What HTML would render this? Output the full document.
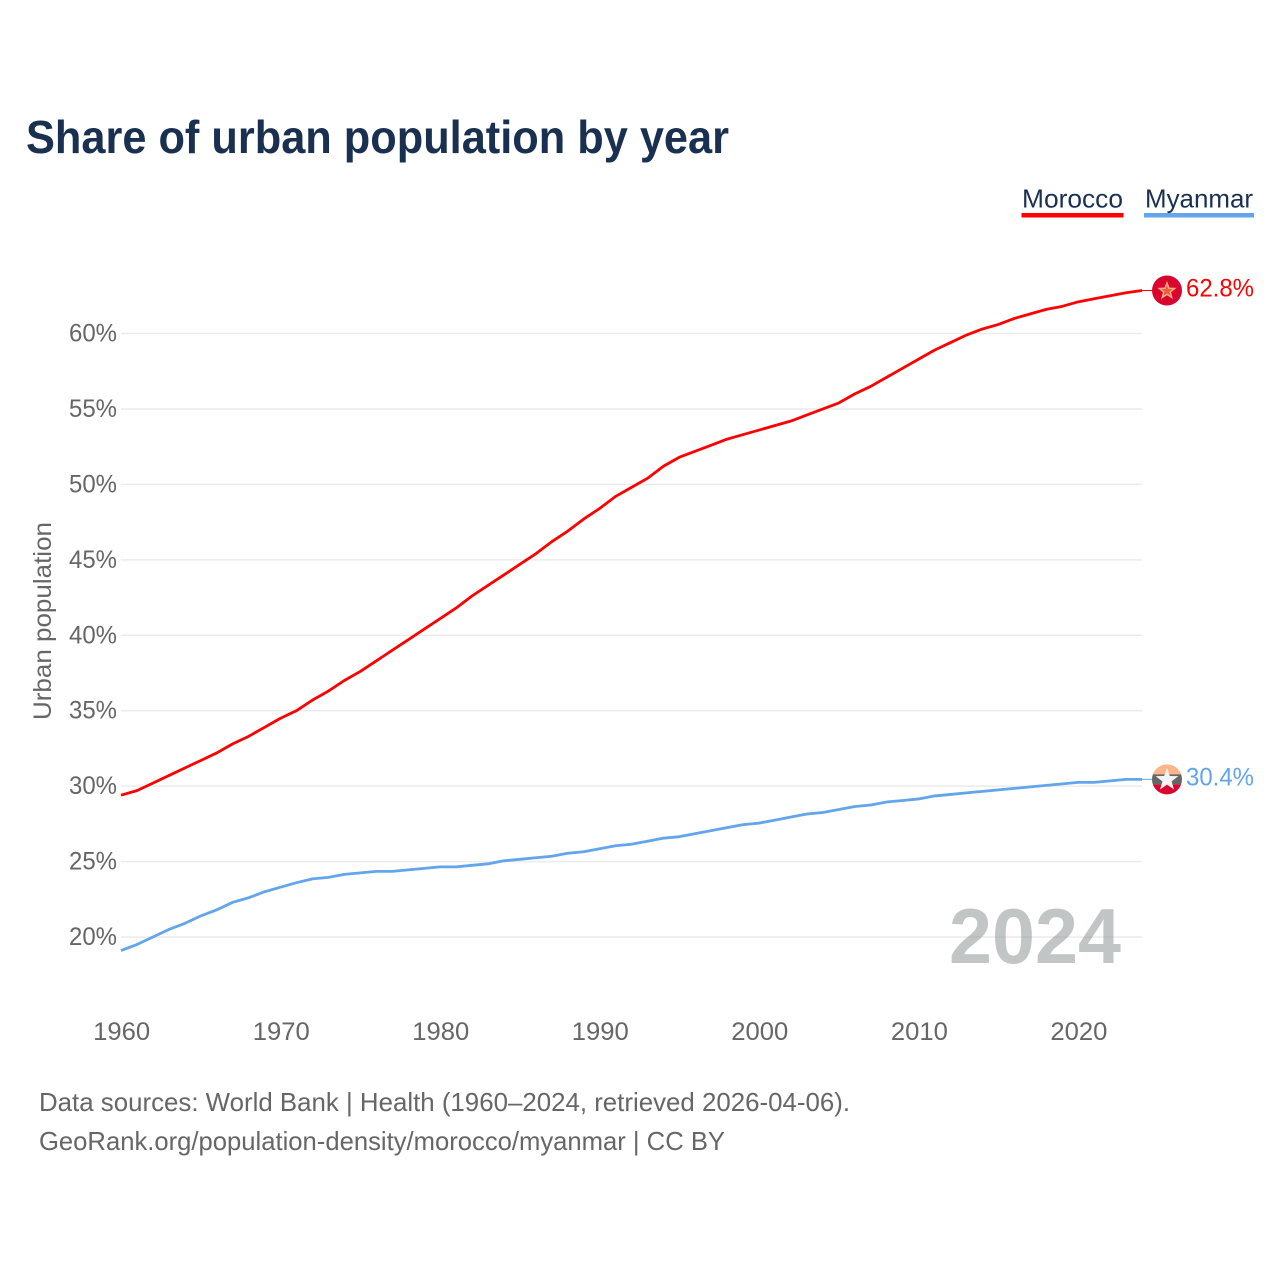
<!DOCTYPE html>
<html lang="en">
<head>
<meta charset="utf-8">
<title>Share of urban population by year</title>
<style>
html,body{margin:0;padding:0;background:#fff;width:1280px;height:1280px;overflow:hidden}
svg{display:block}
text{font-family:"Liberation Sans",sans-serif}
</style>
</head>
<body>
<svg id="chart" xmlns="http://www.w3.org/2000/svg" width="1280" height="1280" viewBox="0 0 1280 1280">
  <rect width="1280" height="1280" fill="#fff"/>
  <text x="26" y="153" font-size="46" font-weight="700" fill="#1a3050" textLength="703" lengthAdjust="spacingAndGlyphs">Share of urban population by year</text>

  <g>
    <g>
      <text x="1022" y="207.5" font-size="26" fill="#1a3050" textLength="101" lengthAdjust="spacingAndGlyphs">Morocco</text>
      <rect x="1021.5" y="213" width="102" height="4.5" fill="#ff0000"/>
    </g>
    <g>
      <text x="1145" y="207.5" font-size="26" fill="#1a3050" textLength="108" lengthAdjust="spacingAndGlyphs">Myanmar</text>
      <rect x="1144" y="213" width="110" height="4.5" fill="#62a5ea"/>
    </g>
  </g>

  <g id="grid"></g>
  <g id="yticks"></g>
  <g id="xticks"></g>
  <text transform="translate(51 621) rotate(-90)" text-anchor="middle" font-size="25" fill="#666" textLength="198" lengthAdjust="spacingAndGlyphs">Urban population</text>

  <text x="949" y="963" font-size="78" font-weight="700" fill="#8a8f8f" fill-opacity="0.52" textLength="172" lengthAdjust="spacingAndGlyphs">2024</text>

  <g id="series"></g>
  <g id="ends"></g>

  <g>
    <text x="39" y="1111" font-size="26" fill="#666" textLength="811" lengthAdjust="spacingAndGlyphs">Data sources: World Bank | Health (1960–2024, retrieved 2026-04-06).</text>
    <text x="39" y="1150" font-size="26" fill="#666" textLength="686" lengthAdjust="spacingAndGlyphs">GeoRank.org/population-density/morocco/myanmar | CC BY</text>
  </g>
</svg>
<script>
const years = [1960,1961,1962,1963,1964,1965,1966,1967,1968,1969,1970,1971,1972,1973,1974,1975,1976,1977,1978,1979,1980,1981,1982,1983,1984,1985,1986,1987,1988,1989,1990,1991,1992,1993,1994,1995,1996,1997,1998,1999,2000,2001,2002,2003,2004,2005,2006,2007,2008,2009,2010,2011,2012,2013,2014,2015,2016,2017,2018,2019,2020,2021,2022,2023,2024];
const moroccoValues = [29.4,29.7,30.2,30.7,31.2,31.7,32.2,32.8,33.3,33.9,34.5,35.0,35.7,36.3,37.0,37.6,38.3,39.0,39.7,40.4,41.1,41.8,42.6,43.3,44.0,44.7,45.4,46.2,46.9,47.7,48.4,49.2,49.8,50.4,51.2,51.8,52.2,52.6,53.0,53.3,53.6,53.9,54.2,54.6,55.0,55.4,56.0,56.5,57.1,57.7,58.3,58.9,59.4,59.9,60.3,60.6,61.0,61.3,61.6,61.8,62.1,62.3,62.5,62.7,62.85];
const myanmarValues = [19.1,19.5,20.0,20.5,20.9,21.4,21.8,22.3,22.6,23.0,23.3,23.6,23.85,23.95,24.15,24.25,24.35,24.35,24.45,24.55,24.65,24.65,24.75,24.85,25.05,25.15,25.25,25.35,25.55,25.65,25.85,26.05,26.15,26.35,26.55,26.65,26.85,27.05,27.25,27.45,27.55,27.75,27.95,28.15,28.25,28.45,28.65,28.75,28.95,29.05,29.15,29.35,29.45,29.55,29.65,29.75,29.85,29.95,30.05,30.15,30.25,30.25,30.35,30.45,30.45];
const yTickValues = [20,25,30,35,40,45,50,55,60];
const xTickValues = [1960,1970,1980,1990,2000,2010,2020];
const moroccoLabel = "62.8%";
const myanmarLabel = "30.4%";

const NS = "http://www.w3.org/2000/svg";
function xScale(year){ return 121 + (year - 1960) * (1142 - 121) / 64; }
function yScale(pct){ return 937 - (pct - 20) * (937 - 333.5) / 40; }
function make(tag, attrs, parent, text){
  const el = document.createElementNS(NS, tag);
  for (const k in attrs) el.setAttribute(k, attrs[k]);
  if (text !== undefined) el.textContent = text;
  parent.appendChild(el);
  return el;
}

const grid = document.getElementById('grid');
const yticks = document.getElementById('yticks');
yTickValues.forEach(function(v){
  const line = make('line', {x1:121, x2:1142, y1:yScale(v), y2:yScale(v), stroke:'#ececec', 'stroke-width':1.5}, grid);
  
  
  const label = make('text', {x:117, y:yScale(v)+8, 'text-anchor':'end', 'font-size':25, fill:'#666', textLength:48, lengthAdjust:'spacingAndGlyphs'}, yticks, v + '%');
  
  
});

const xticks = document.getElementById('xticks');
xTickValues.forEach(function(v){
  const label = make('text', {x:xScale(v)+0.7, y:1040, 'text-anchor':'middle', 'font-size':25, fill:'#666', textLength:57, lengthAdjust:'spacingAndGlyphs'}, xticks, String(v));
  
  
});

function pathFor(values){
  return values.map(function(v, i){
    return (i ? 'L' : 'M') + xScale(years[i]).toFixed(2) + ' ' + yScale(v).toFixed(2);
  }).join(' ');
}
const series = document.getElementById('series');
const moroccoLine = make('path', {d:pathFor(moroccoValues), fill:'none', stroke:'#ff0000', 'stroke-width':2.8, 'stroke-linejoin':'round'}, series);


const myanmarLine = make('path', {d:pathFor(myanmarValues), fill:'none', stroke:'#62a5ea', 'stroke-width':2.8, 'stroke-linejoin':'round'}, series);



function starPoints(cx, cy, R, r){
  const pts = [];
  for (let i = 0; i < 10; i++){
    const a = -Math.PI / 2 + i * Math.PI / 5;
    const rad = i % 2 ? r : R;
    pts.push((cx + rad * Math.cos(a)).toFixed(2) + ',' + (cy + rad * Math.sin(a)).toFixed(2));
  }
  return pts.join(' ');
}

const ends = document.getElementById('ends');
const FLAG_X = 1167, FLAG_R = 15;

/* Morocco end marker */
const my1 = yScale(moroccoValues[moroccoValues.length - 1]);
const conn1 = make('line', {x1:1142, x2:1152, y1:my1, y2:my1, stroke:'#ff0000', 'stroke-width':1}, ends);


const flag1 = make('g', {}, ends);


make('circle', {cx:FLAG_X, cy:my1, r:FLAG_R, fill:'#d9052f'}, flag1);
make('polygon', {points:starPoints(FLAG_X, my1 + 0.5, 8, 3.4), fill:'#e8603f', stroke:'#f5ad80', 'stroke-width':1.5}, flag1);
const val1 = make('text', {x:1186, y:my1 + 6, 'font-size':25, fill:'#ff0000', textLength:68, lengthAdjust:'spacingAndGlyphs'}, ends, moroccoLabel);



/* Myanmar end marker */
const my2 = yScale(myanmarValues[myanmarValues.length - 1]);
const conn2 = make('line', {x1:1142, x2:1152, y1:my2, y2:my2, stroke:'#62a5ea', 'stroke-width':1}, ends);


const flag2 = make('g', {}, ends);


const defs = make('defs', {}, flag2);
const clip = make('clipPath', {id:'flag2clip'}, defs);
make('circle', {cx:FLAG_X, cy:my2, r:FLAG_R}, clip);
const bands = make('g', {'clip-path':'url(#flag2clip)'}, flag2);
make('rect', {x:FLAG_X - 16, y:my2 - 16, width:32, height:11, fill:'#fdb58a'}, bands);
make('rect', {x:FLAG_X - 16, y:my2 - 5, width:32, height:10, fill:'#666666'}, bands);
make('rect', {x:FLAG_X - 16, y:my2 + 5, width:32, height:11, fill:'#d9052f'}, bands);
make('polygon', {points:starPoints(FLAG_X, my2 + 0.5, 12, 4.8), fill:'#f4f4f4'}, flag2);
const val2 = make('text', {x:1186, y:my2 + 6, 'font-size':25, fill:'#62a5ea', textLength:68, lengthAdjust:'spacingAndGlyphs'}, ends, myanmarLabel);


</script>
</body>
</html>
